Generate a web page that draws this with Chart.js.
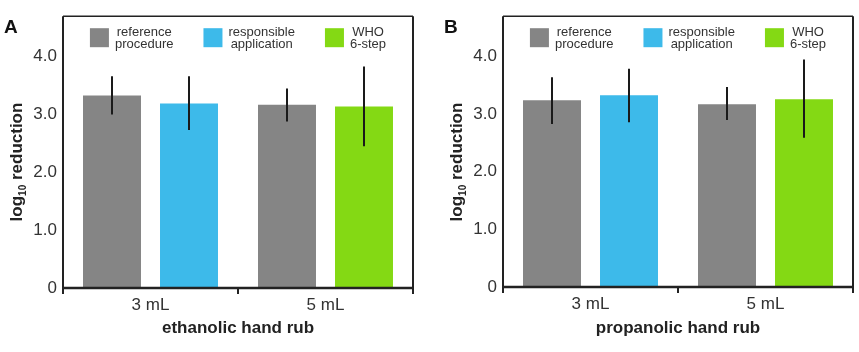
<!DOCTYPE html>
<html>
<head>
<meta charset="utf-8">
<script src="https://cdn.jsdelivr.net/npm/chart.js@4.4.1/dist/chart.umd.min.js"></script>
<style>
  body { margin: 0; background: #fff; width: 859px; height: 352px; position: relative; overflow: hidden; }
  .panel { position: absolute; top: 0; height: 352px; }
  #panelA { left: 0; width: 430px; }
  #panelB { left: 430px; width: 429px; }
</style>
</head>
<body>
<div class="panel" id="panelA"><canvas id="chartA"></canvas></div>
<div class="panel" id="panelB"><canvas id="chartB"></canvas></div>
<script>
const FONT = '"Liberation Sans", Arial, Helvetica, sans-serif';

const categories = ['3 mL', '5 mL'];
const seriesNames = [['reference', 'procedure'], ['responsible', 'application'], ['WHO', '6-step']];
const seriesColors = ['#858585', '#3DBAEA', '#84D914'];
const yTicks = [0, 1, 2, 3, 4];

// A: ethanolic hand rub
const ethReference = [3.33, 3.17];
const ethReferenceLow = [3.00, 2.88];
const ethReferenceHigh = [3.66, 3.45];
const ethResponsible = [3.19, null];
const ethResponsibleLow = [2.73, null];
const ethResponsibleHigh = [3.66, null];
const ethWho = [null, 3.14];
const ethWhoLow = [null, 2.45];
const ethWhoHigh = [null, 3.83];

// B: propanolic hand rub
const propReference = [3.24, 3.17];
const propReferenceLow = [2.83, 2.90];
const propReferenceHigh = [3.64, 3.47];
const propResponsible = [3.33, null];
const propResponsibleLow = [2.86, null];
const propResponsibleHigh = [3.79, null];
const propWho = [null, 3.26];
const propWhoLow = [null, 2.59];
const propWhoHigh = [null, 3.95];

// error bars, frame, legend, y title and panel letter
const decorPlugin = {
  id: 'decor',
  afterDatasetsDraw(chart) {
    const ctx = chart.ctx;
    const y = chart.scales.y;
    ctx.save();
    ctx.strokeStyle = '#1a1a1a';
    ctx.lineWidth = 2;
    chart.data.datasets.forEach((ds, i) => {
      const meta = chart.getDatasetMeta(i);
      ds.data.forEach((v, j) => {
        if (v == null) return;
        const el = meta.data[j];
        ctx.beginPath();
        ctx.moveTo(el.x, y.getPixelForValue(ds.errLow[j]));
        ctx.lineTo(el.x, y.getPixelForValue(ds.errHigh[j]));
        ctx.stroke();
      });
    });
    ctx.restore();
  },
  afterDraw(chart) {
    const ctx = chart.ctx;
    const a = chart.chartArea;
    const opts = chart.options.plugins.decor;
    ctx.save();

    // frame
    ctx.strokeStyle = '#222';
    ctx.lineWidth = 1.5;
    ctx.beginPath();
    ctx.moveTo(a.left, a.top);
    ctx.lineTo(a.right, a.top);
    ctx.stroke();
    ctx.lineWidth = 2;
    ctx.beginPath();
    ctx.moveTo(a.left, a.bottom);
    ctx.lineTo(a.left, a.top);
    ctx.moveTo(a.right, a.top);
    ctx.lineTo(a.right, a.bottom);
    ctx.stroke();
    ctx.lineWidth = 2.5;
    ctx.beginPath();
    ctx.moveTo(a.left - 1, a.bottom);
    ctx.lineTo(a.right + 1, a.bottom);
    ctx.stroke();

    // legend
    ctx.font = '13px ' + FONT;
    const widths = seriesNames.map(lines => Math.max(...lines.map(t => ctx.measureText(t).width)));
    const box = 19, gap = 6, itemGap = 30;
    const total = widths.reduce((s, w) => s + box + gap + w, 0) + itemGap * (widths.length - 1);
    let x = (a.left + a.right) / 2 - total / 2;
    ctx.textAlign = 'center';
    ctx.textBaseline = 'middle';
    seriesNames.forEach((lines, i) => {
      ctx.fillStyle = seriesColors[i];
      ctx.fillRect(x, a.top + 12, box, box);
      ctx.fillStyle = '#333';
      const cx = x + box + gap + widths[i] / 2;
      lines.forEach((t, k) => ctx.fillText(t, cx, a.top + 16 + k * 12));
      x += box + gap + widths[i] + itemGap;
    });

    // y title with subscript
    ctx.translate(a.left - 41, 162);
    ctx.rotate(-Math.PI / 2);
    ctx.textAlign = 'left';
    ctx.textBaseline = 'alphabetic';
    ctx.fillStyle = '#222';
    const big = 'bold 17px ' + FONT, small = 'bold 10px ' + FONT;
    ctx.font = big;
    const w1 = ctx.measureText('log').width, w3 = ctx.measureText(' reduction').width;
    ctx.font = small;
    const w2 = ctx.measureText('10').width;
    let tx = -(w1 + w2 + w3) / 2;
    ctx.font = big;
    ctx.fillText('log', tx, 0);
    ctx.font = small;
    ctx.fillText('10', tx + w1, 4);
    ctx.font = big;
    ctx.fillText(' reduction', tx + w1 + w2, 0);
    ctx.setTransform(1, 0, 0, 1, 0, 0);

    // panel letter
    ctx.font = 'bold 19px ' + FONT;
    ctx.fillStyle = '#111';
    ctx.textAlign = 'left';
    ctx.fillText(opts.letter, a.left - 59, 33);
    ctx.restore();
  }
};

function makeChart(id, letter, title, ref, refLow, refHigh, resp, respLow, respHigh, who, whoLow, whoHigh, plotLeft, padRight, plotBottom) {
  const ctx = document.getElementById(id).getContext('2d');
  return new Chart(ctx, {
    type: 'bar',
    data: {
      labels: categories,
      datasets: [
        { label: seriesNames[0].join(' '), data: ref, errLow: refLow, errHigh: refHigh, backgroundColor: seriesColors[0] },
        { label: seriesNames[1].join(' '), data: resp, errLow: respLow, errHigh: respHigh, backgroundColor: seriesColors[1] },
        { label: seriesNames[2].join(' '), data: who, errLow: whoLow, errHigh: whoHigh, backgroundColor: seriesColors[2] }
      ]
    },
    options: {
      responsive: true,
      maintainAspectRatio: false,
      animation: false,
      skipNull: true,
      categoryPercentage: 0.88,
      barPercentage: 0.753,
      layout: { padding: { top: 15, right: padRight, left: 0, bottom: 0 } },
      plugins: {
        legend: { display: false },
        tooltip: { enabled: false },
        decor: { letter: letter }
      },
      scales: {
        x: {
          grid: { display: true, drawOnChartArea: false, drawTicks: true, tickLength: 6, color: '#222', lineWidth: 2 },
          border: { display: false },
          ticks: { color: '#333', font: { family: FONT, size: 17 }, padding: 1 },
          title: { display: true, text: title, color: '#222', font: { family: FONT, size: 17, weight: 'bold' }, padding: { top: 0, bottom: 13 } },
          afterFit: s => { s.height = 352 - plotBottom; }
        },
        y: {
          min: 0,
          max: 4.7,
          afterBuildTicks: s => { s.ticks = yTicks.map(v => ({ value: v })); },
          grid: { display: false, drawTicks: false },
          border: { display: false },
          ticks: {
            color: '#333',
            font: { family: FONT, size: 17 },
            padding: 6,
            callback: v => v === 0 ? '0' : v.toFixed(1)
          },
          afterFit: s => { s.width = plotLeft; }
        }
      }
    },
    plugins: [decorPlugin]
  });
}

makeChart('chartA', 'A', 'ethanolic hand rub',
  ethReference, ethReferenceLow, ethReferenceHigh,
  ethResponsible, ethResponsibleLow, ethResponsibleHigh,
  ethWho, ethWhoLow, ethWhoHigh, 63, 17, 288);

makeChart('chartB', 'B', 'propanolic hand rub',
  propReference, propReferenceLow, propReferenceHigh,
  propResponsible, propResponsibleLow, propResponsibleHigh,
  propWho, propWhoLow, propWhoHigh, 73, 6, 287);
</script>
</body>
</html>
